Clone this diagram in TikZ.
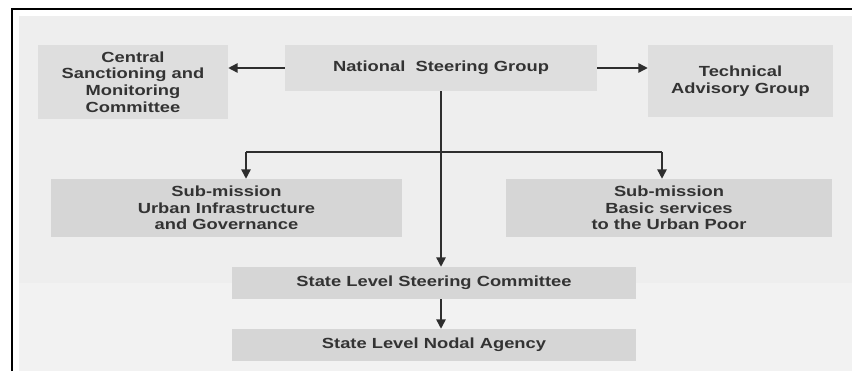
\documentclass[tikz,border=0pt]{standalone}
\usepackage{fontspec}
\setmainfont[FakeStretch=1.25]{Liberation Sans}
\usetikzlibrary{arrows.meta}
\definecolor{bgtop}{HTML}{EEEEEE}
\definecolor{bgbot}{HTML}{F2F2F2}
\definecolor{boxa}{HTML}{DEDEDE}
\definecolor{boxb}{HTML}{D6D6D6}
\definecolor{txt}{HTML}{333333}
\definecolor{ln}{HTML}{2E2E2E}
\begin{document}
\begin{tikzpicture}[x=0.75pt,y=-0.75pt,
  box/.style={fill=#1,draw=none,inner sep=0pt,align=center,text=txt,
    font=\fontsize{11pt}{12.5pt}\selectfont\bfseries},
  conn/.style={draw=ln,line width=1.1pt},
  arr/.style={conn,-{Triangle[length=7pt,width=7pt]}}]
\useasboundingbox (0,0) rectangle (852,371);
\fill[white] (0,0) rectangle (852,371);
\fill[bgtop] (19,16) rectangle (852,283);
\fill[bgbot] (19,283) rectangle (852,371);
\draw[black,line width=1.6pt] (12,371) -- (12,9) -- (852,9);
% nodes
\node[box=boxa,minimum width=142.5pt,minimum height=55.5pt] (csmc) at (133,82) {Central\\Sanctioning and\\Monitoring\\Committee};
\node[box=boxa,minimum width=234pt,minimum height=34.5pt] (nsg) at (441,68) {National\ \ Steering Group};
\node[box=boxa,minimum width=138.75pt,minimum height=54pt] (tag) at (740.5,81) {Technical\\Advisory Group};
\node[box=boxb,minimum width=263.25pt,minimum height=43.5pt] (uig) at (226.5,208) {Sub-mission\\Urban Infrastructure\\and Governance};
\node[box=boxb,minimum width=244.5pt,minimum height=43.5pt] (bsup) at (669,208) {Sub-mission\\Basic services\\to the Urban Poor};
\node[box=boxb,minimum width=303pt,minimum height=24pt] (slsc) at (434,283) {State Level Steering Committee};
\node[box=boxb,minimum width=303pt,minimum height=24pt] (slna) at (434,345) {State Level Nodal Agency};
% connectors
\coordinate (bl) at (246,152);
\coordinate (bm) at (441,152);
\coordinate (brt) at (662,152);
\draw[arr] (nsg.west) -- (csmc.east |- nsg.west);
\draw[arr] (nsg.east) -- (tag.west |- nsg.east);
\draw[arr] (nsg.south -| bm) -- (slsc.north -| bm);
\draw[conn] (bl) -- (brt);
\draw[arr] (bl) -- (bl |- uig.north);
\draw[arr] (brt) -- (brt |- bsup.north);
\draw[arr] (slsc.south -| bm) -- (slna.north -| bm);
\end{tikzpicture}
\end{document}
